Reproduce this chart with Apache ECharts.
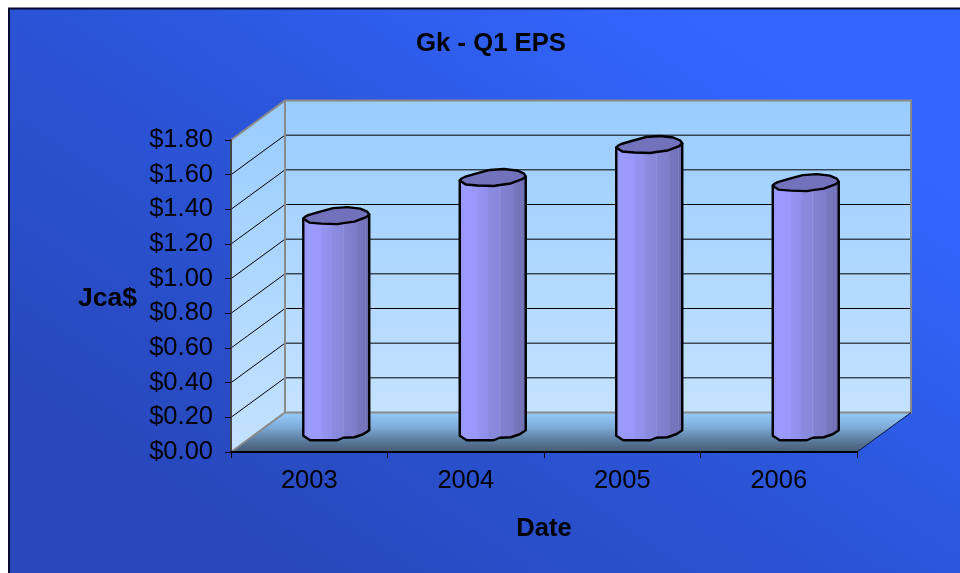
<!DOCTYPE html>
<html>
<head>
<meta charset="utf-8">
<style>html,body{margin:0;padding:0;background:#fff}#c{width:960px;height:573px}</style>
<script src="https://cdn.jsdelivr.net/npm/echarts@6/dist/echarts.min.js"></script>
</head>
<body>
<div id="c"></div>
<script>
const categories = ['2003', '2004', '2005', '2006'];
const eps = [1.25, 1.47, 1.66, 1.44];
const yTicks = [0, 0.2, 0.4, 0.6, 0.8, 1.0, 1.2, 1.4, 1.6, 1.8];
const DEPTH_X = 54, DEPTH_Y = -39.5, BAR_HALF = 33;
const capShape = [[-33,3],[-31,1],[-28,-0.5],[-16,-4],[-3,-7.5],[11,-8.5],[24,-7],[31,-4],[33,-1],[30,1.5],[18,6],[7,7.5],[1,8.5],[-15,8],[-27,7]];
const baseFront = [[33,-2],[27,2],[18,5],[7,5.5],[1,8],[-26,8],[-33,3.5]];
const fontFamily = '"Liberation Sans", Arial, sans-serif';

function sceneItem(params, api) {
  const c = params.coordSys;
  const l = c.x, r = c.x + c.width;
  const y = v => api.coord([0, v])[1];
  const y0 = y(0), yT = y(1.8);
  const children = [];
  const wallFill = {type:'linear',x:0,y:0,x2:0,y2:1,colorStops:[{offset:0,color:'#99ccff'},{offset:1,color:'#c4e2ff'}]};
  children.push({type:'polygon',shape:{points:[[l+DEPTH_X,yT+DEPTH_Y],[r+DEPTH_X,yT+DEPTH_Y],[r+DEPTH_X,y0+DEPTH_Y],[l+DEPTH_X,y0+DEPTH_Y]]},style:{fill:wallFill}});
  children.push({type:'polygon',shape:{points:[[l,yT],[l+DEPTH_X,yT+DEPTH_Y],[l+DEPTH_X,y0+DEPTH_Y],[l,y0]]},style:{fill:wallFill}});
  children.push({type:'polygon',shape:{points:[[l,y0],[l+DEPTH_X,y0+DEPTH_Y],[r+DEPTH_X,y0+DEPTH_Y],[r,y0]]},
    style:{fill:{type:'linear',x:0,y:0,x2:0,y2:1,colorStops:[{offset:0,color:'#96cbfb'},{offset:0.35,color:'#80aedb'},{offset:0.7,color:'#5c7d9f'},{offset:1,color:'#465a74'}]}}});
  yTicks.slice(1, -1).forEach(v => {
    const p = y(v);
    children.push({type:'polyline',shape:{points:[[l,p],[l+DEPTH_X,p+DEPTH_Y],[r+DEPTH_X,p+DEPTH_Y]]},style:{fill:null,stroke:'#000',lineWidth:1}});
  });
  const grey = {fill:null,stroke:'#8a8a8a',lineWidth:2};
  children.push({type:'polyline',shape:{points:[[l,yT],[l+DEPTH_X,yT+DEPTH_Y],[r+DEPTH_X,yT+DEPTH_Y],[r+DEPTH_X,y0+DEPTH_Y],[l+DEPTH_X,y0+DEPTH_Y],[l,y0]]},style:grey});
  children.push({type:'line',shape:{x1:l+DEPTH_X,y1:yT+DEPTH_Y,x2:l+DEPTH_X,y2:y0+DEPTH_Y},style:grey});
  children.push({type:'line',shape:{x1:r,y1:y0,x2:r+DEPTH_X,y2:y0+DEPTH_Y},style:{stroke:'#0a1440',lineWidth:1}});
  return {type:'group',children};
}

function barItem(params, api) {
  const top = api.coord([api.value(0), api.value(1)]);
  const base = api.coord([api.value(0), 0]);
  const cx = top[0] + DEPTH_X / 2, ty = top[1] + DEPTH_Y / 2, by = base[1] + DEPTH_Y / 2;
  const body = [[cx - BAR_HALF, ty + 3], [cx + BAR_HALF, ty - 1]]
    .concat(baseFront.map(p => [cx + p[0], by + p[1]]));
  const shade = {type:'linear',x:0,y:0,x2:1,y2:0,global:false,colorStops:[
    {offset:0,color:'#9393f2'},{offset:0.06,color:'#9898fa'},{offset:0.07,color:'#9b9bff'},{offset:0.28,color:'#9999fb'},
    {offset:0.29,color:'#9494f2'},{offset:0.43,color:'#9090ea'},{offset:0.44,color:'#8b8be2'},{offset:0.59,color:'#8787da'},
    {offset:0.6,color:'#9393dc'},{offset:0.62,color:'#8282d2'},{offset:0.8,color:'#7d7dca'},{offset:0.81,color:'#7777c0'},
    {offset:0.92,color:'#7373ba'},{offset:0.93,color:'#8080c2'},{offset:0.94,color:'#6e6eb2'},{offset:1,color:'#6a6aac'}]};
  return {type:'group',children:[
    {type:'polygon',shape:{points:body},style:{fill:shade,stroke:'#000',lineWidth:2.4,lineJoin:'round'}},
    {type:'polygon',shape:{points:capShape.map(p => [cx + p[0], ty + p[1]])},style:{fill:'#7272bc',stroke:'#000',lineWidth:2.4,lineJoin:'round'}}
  ]};
}

const chart = echarts.init(document.getElementById('c'), null, {renderer:'canvas'});
chart.setOption({
  animation:false,
  backgroundColor:'#ffffff',
  textStyle:{fontFamily},
  graphic:[
    {type:'rect',z:-10,silent:true,shape:{x:9,y:8,width:951,height:565},
      style:{fill:{type:'linear',x:0.3,y:1,x2:0.7,y2:0,colorStops:[{offset:0,color:'#2848bc'},{offset:0.5,color:'#2b55d8'},{offset:1,color:'#3366ff'}]}}},
    {type:'polyline',z:-9,silent:true,shape:{points:[[9,573],[9,8.5],[960,8.5]]},style:{fill:null,stroke:'#050a30',lineWidth:2}}
  ],
  title:{text:'Gk - Q1 EPS',left:486,top:26,textAlign:'center',
    textStyle:{fontFamily,fontSize:25.7,fontWeight:'bold',color:'#000'}},
  grid:{left:231,top:140,width:626,height:312,containLabel:false},
  xAxis:{type:'category',data:categories,z:5,
    axisLine:{lineStyle:{color:'#000',width:2}},
    axisTick:{show:true,alignWithLabel:false,length:6,lineStyle:{color:'#000',width:1}},
    axisLabel:{fontFamily,fontSize:25.5,color:'#000',margin:16},
    name:'Date',nameLocation:'middle',nameGap:64,
    nameTextStyle:{fontFamily,fontSize:25.5,fontWeight:'bold',color:'#000'}},
  yAxis:{type:'value',min:0,max:1.8,interval:0.2,z:5,splitLine:{show:false},
    axisLine:{show:true,lineStyle:{color:'#444',width:2}},
    axisTick:{show:true,length:6,lineStyle:{color:'#000',width:1}},
    axisLabel:{fontFamily,fontSize:25.5,color:'#000',margin:18,formatter:v => '$' + v.toFixed(2)},
    name:'Jca$',nameLocation:'middle',nameRotate:0,nameGap:94,
    nameTextStyle:{fontFamily,fontSize:26.5,fontWeight:'bold',color:'#000',align:'right',verticalAlign:'top',lineHeight:6}},
  series:[
    {type:'custom',z:1,silent:true,coordinateSystem:'cartesian2d',data:[[0,0]],renderItem:sceneItem,clip:false},
    {type:'custom',z:3,silent:true,coordinateSystem:'cartesian2d',encode:{x:0,y:1},
      data:eps.map((v,i) => [i,v]),renderItem:barItem,clip:false}
  ]
});
</script>
</body>
</html>
